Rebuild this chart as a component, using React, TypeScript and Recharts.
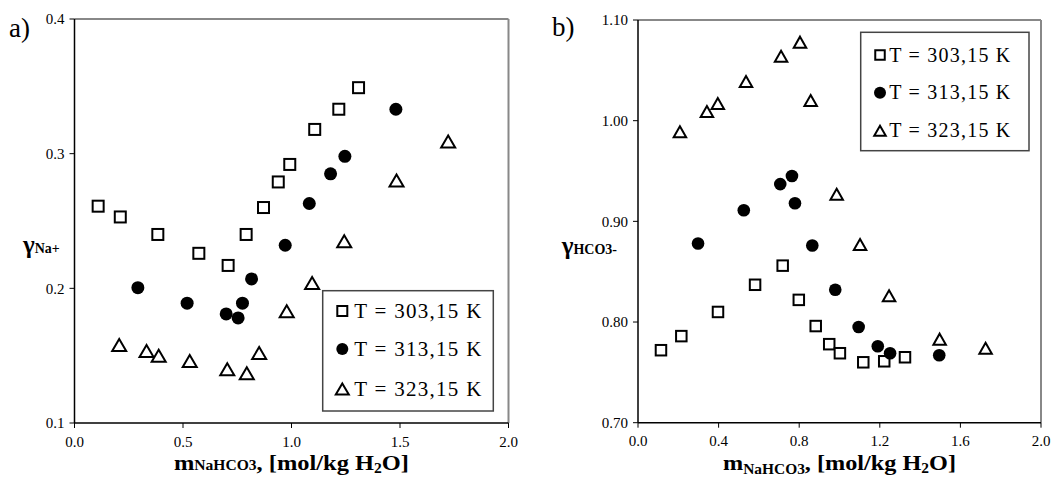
import { ReferenceLine, Scatter, ScatterChart, XAxis, YAxis } from "recharts";

// panel a) gamma Na+
const mA303 = [0.109, 0.211, 0.384, 0.573, 0.708, 0.791, 0.871, 0.939, 0.992, 1.107, 1.218, 1.309];
const gA303 = [0.261, 0.253, 0.24, 0.226, 0.217, 0.24, 0.26, 0.279, 0.292, 0.318, 0.333, 0.349];
const mA313 = [0.292, 0.519, 0.699, 0.754, 0.774, 0.816, 0.971, 1.082, 1.18, 1.246, 1.481];
const gA313 = [0.2005, 0.189, 0.181, 0.178, 0.189, 0.207, 0.232, 0.263, 0.285, 0.298, 0.333];
const mA323 = [0.206, 0.332, 0.388, 0.531, 0.704, 0.794, 0.851, 0.978, 1.095, 1.243, 1.484, 1.722];
const gA323 = [0.158, 0.1535, 0.15, 0.146, 0.14, 0.137, 0.152, 0.183, 0.204, 0.235, 0.28, 0.309];

// panel b) gamma HCO3-
const mB303 = [0.114, 0.215, 0.397, 0.581, 0.718, 0.798, 0.882, 0.949, 1.002, 1.118, 1.222, 1.325];
const gB303 = [0.772, 0.786, 0.81, 0.837, 0.856, 0.822, 0.796, 0.778, 0.769, 0.76, 0.761, 0.765];
const mB313 = [0.298, 0.525, 0.706, 0.764, 0.779, 0.865, 0.979, 1.095, 1.19, 1.251, 1.495];
const gB313 = [0.878, 0.911, 0.937, 0.945, 0.918, 0.876, 0.832, 0.795, 0.776, 0.769, 0.767];
const mB323 = [0.208, 0.342, 0.396, 0.536, 0.71, 0.804, 0.857, 0.986, 1.102, 1.246, 1.497, 1.725];
const gB323 = [0.989, 1.009, 1.017, 1.039, 1.064, 1.078, 1.02, 0.927, 0.877, 0.826, 0.783, 0.774];

const seriesNames = ["T = 303,15 K", "T = 313,15 K", "T = 323,15 K"];
const xTicksA = [0, 0.5, 1, 1.5, 2];
const yTicksA = [0.1, 0.2, 0.3, 0.4];
const xTicksB = [0, 0.4, 0.8, 1.2, 1.6, 2];
const yTicksB = [0.7, 0.8, 0.9, 1.0, 1.1];

const font = '"Liberation Serif", "Times New Roman", serif';

const pts = (xs: number[], ys: number[]) => xs.map((x, i) => ({ x, y: ys[i] }));

const square = (s: number) => (p: any) => (
  <rect x={p.cx - s / 2} y={p.cy - s / 2} width={s} height={s} fill="#fff" stroke="#000" strokeWidth={2} />
);
const dot = (r: number) => (p: any) => <circle cx={p.cx} cy={p.cy} r={r} fill="#000" />;
const tri = (w: number, h: number) => (p: any) => (
  <path
    d={`M${p.cx},${p.cy - h / 2}L${p.cx + w / 2},${p.cy + h / 2}L${p.cx - w / 2},${p.cy + h / 2}Z`}
    fill="#fff"
    stroke="#000"
    strokeWidth={2}
  />
);

const tickStyle = { fill: "#000", fontSize: 15, fontFamily: font };
const axisLine = { stroke: "#000", strokeWidth: 1.5 };

function XTitle({ viewBox, len, drop }: any) {
  const { x, y, width } = viewBox;
  return (
    <text
      x={x + width / 2}
      y={y + 47}
      textAnchor="middle"
      fontWeight="bold"
      fontFamily={font}
      fill="#000"
      textLength={len}
      lengthAdjust="spacingAndGlyphs"
    >
      <tspan fontSize={22}>m</tspan>
      <tspan fontSize={14} dy={drop}>NaHCO3</tspan>
      <tspan fontSize={22} dy={-drop}>, [mol/kg H</tspan>
      <tspan fontSize={14} dy={3}>2</tspan>
      <tspan fontSize={22} dy={-3}>O]</tspan>
    </text>
  );
}

function YTitle({ viewBox, dx, sub }: any) {
  return (
    <text x={viewBox.x + dx} y={viewBox.y + 234} fontWeight="bold" fontFamily={font} fill="#000">
      <tspan fontSize={25}>γ</tspan>
      <tspan fontSize={14}>{sub}</tspan>
    </text>
  );
}

export default function App() {
  return (
    <div style={{ position: "absolute", left: 0, top: 0, width: 1054, height: 477, background: "#fff", fontFamily: font }}>
      <div style={{ position: "absolute", left: 0, top: 0 }}>
        <ScatterChart width={530} height={477} margin={{ top: 19, right: 21.5, bottom: 24, left: 0 }}>
          <XAxis
            type="number"
            dataKey="x"
            domain={[0, 2]}
            ticks={xTicksA}
            tickFormatter={(v: number) => v.toFixed(1)}
            height={30}
            tickSize={5}
            tickMargin={8}
            tick={tickStyle}
            axisLine={axisLine}
            tickLine={{ stroke: "#000" }}
            label={{ content: (p: any) => <XTitle {...p} len={235} drop={0} /> }}
          />
          <YAxis
            type="number"
            dataKey="y"
            domain={[0.1, 0.4]}
            ticks={yTicksA}
            tickFormatter={(v: number) => v.toFixed(1)}
            width={74.5}
            tickSize={5}
            tickMargin={5}
            tick={tickStyle}
            axisLine={axisLine}
            tickLine={{ stroke: "#000" }}
            label={{ content: (p: any) => <YTitle {...p} dx={23} sub="Na+" /> }}
          />
          <ReferenceLine y={0.4} stroke="#888" strokeWidth={2} />
          <ReferenceLine x={2} stroke="#888" strokeWidth={2} />
          <Scatter name={seriesNames[0]} data={pts(mA303, gA303)} shape={square(11)} isAnimationActive={false} />
          <Scatter name={seriesNames[1]} data={pts(mA313, gA313)} shape={dot(6.5)} isAnimationActive={false} />
          <Scatter name={seriesNames[2]} data={pts(mA323, gA323)} shape={tri(14, 12)} isAnimationActive={false} />
        </ScatterChart>
      </div>
      <div style={{ position: "absolute", left: 530, top: 0 }}>
        <ScatterChart width={524} height={477} margin={{ top: 20, right: 13, bottom: 24.3, left: 0 }}>
          <XAxis
            type="number"
            dataKey="x"
            domain={[0, 2]}
            ticks={xTicksB}
            tickFormatter={(v: number) => v.toFixed(1)}
            height={30}
            tickSize={5}
            tickMargin={8}
            tick={tickStyle}
            axisLine={axisLine}
            tickLine={{ stroke: "#000" }}
            label={{ content: (p: any) => <XTitle {...p} len={233} drop={4} /> }}
          />
          <YAxis
            type="number"
            dataKey="y"
            domain={[0.7, 1.1]}
            ticks={yTicksB}
            tickFormatter={(v: number) => v.toFixed(2)}
            width={108}
            tickSize={5}
            tickMargin={5}
            tick={tickStyle}
            axisLine={axisLine}
            tickLine={{ stroke: "#000" }}
            label={{ content: (p: any) => <YTitle {...p} dx={31.7} sub="HCO3-" /> }}
          />
          <ReferenceLine y={1.1} stroke="#888" strokeWidth={2} />
          <ReferenceLine x={2} stroke="#888" strokeWidth={2} />
          <Scatter name={seriesNames[0]} data={pts(mB303, gB303)} shape={square(10.5)} isAnimationActive={false} />
          <Scatter name={seriesNames[1]} data={pts(mB313, gB313)} shape={dot(6.3)} isAnimationActive={false} />
          <Scatter name={seriesNames[2]} data={pts(mB323, gB323)} shape={tri(12.5, 11)} isAnimationActive={false} />
        </ScatterChart>
      </div>
      <svg width={1054} height={477} style={{ position: "absolute", left: 0, top: 0, pointerEvents: "none" }}>
        <text x={9} y={37} fontSize={27} fontFamily={font} fill="#000">a)</text>
        <text x={552} y={36} fontSize={27} fontFamily={font} fill="#000">b)</text>

        <rect x={322.7} y={290.7} width={170.6} height={120.3} fill="#fff" stroke="#444" strokeWidth={1.5} />
        {seriesNames.map((n, i) => {
          const cy = [311, 349, 389][i];
          const p = { cx: 342.3, cy };
          return (
            <g key={n}>
              {i === 0 ? square(10)(p) : i === 1 ? dot(6)(p) : tri(13, 11)(p)}
              <text x={354.3} y={cy + 7} fontSize={21} fontFamily={font} fill="#000" textLength={127} lengthAdjust="spacing">
                {n}
              </text>
            </g>
          );
        })}

        <rect x={860.7} y={32.3} width={168.3} height={118.4} fill="#fff" stroke="#444" strokeWidth={1.5} />
        {seriesNames.map((n, i) => {
          const cy = [55, 92.7, 130.7][i];
          const p = { cx: 880, cy };
          return (
            <g key={n}>
              {i === 0 ? square(9.5)(p) : i === 1 ? dot(6)(p) : tri(11.5, 10)(p)}
              <text x={889.3} y={cy + 6.5} fontSize={20} fontFamily={font} fill="#000" textLength={121} lengthAdjust="spacing">
                {n}
              </text>
            </g>
          );
        })}
      </svg>
    </div>
  );
}
